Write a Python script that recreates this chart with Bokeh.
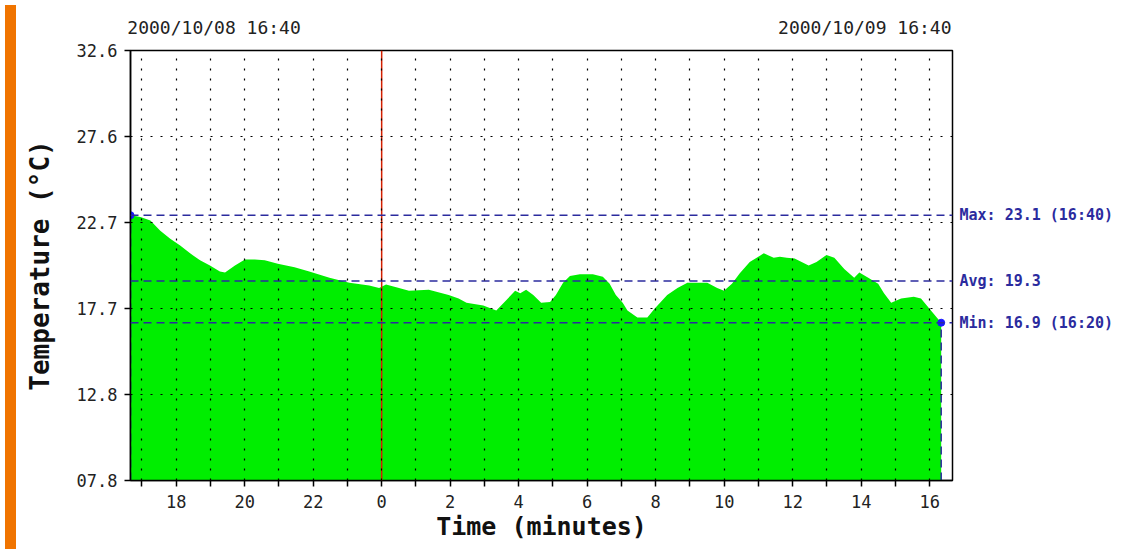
from bokeh.plotting import figure
from bokeh.models import Range1d, FixedTicker, Span, LinearAxis, Div
from bokeh.layouts import row
from bokeh.embed import file_html
from bokeh.resources import INLINE

# ---------------- data ----------------
start_label = "2000/10/08 16:40"
end_label = "2000/10/09 16:40"
start_offset_hours = -(7 + 20 / 60)   # 16:40 relative to midnight of 10/09
span_hours = 24.0

hours_since_start = [0.00, 0.29, 0.58, 0.87, 1.16, 1.45, 1.74, 2.03, 2.32, 2.61,
                     2.76, 3.05, 3.34, 3.63, 3.92, 4.30, 4.79, 5.22, 5.81, 6.39,
                     6.97, 7.26, 7.46, 7.84, 8.13, 8.71, 9.29, 9.58, 9.81, 10.30,
                     10.68, 10.97, 11.23, 11.38, 11.55, 11.76, 11.99, 12.25, 12.42, 12.63,
                     12.83, 13.12, 13.50, 13.79, 13.99, 14.17, 14.37, 14.51, 14.80, 15.09,
                     15.30, 15.67, 15.97, 16.26, 16.55, 16.84, 17.13, 17.33, 17.56, 17.79,
                     18.08, 18.49, 18.78, 18.96, 19.16, 19.39, 19.80, 20.03, 20.32, 20.55,
                     20.84, 21.13, 21.28, 21.54, 21.83, 22.00, 22.21, 22.50, 22.87, 23.08,
                     23.37, 23.67]
temperature_c = [23.1, 23.0, 22.8, 22.2, 21.75, 21.35, 20.9, 20.5, 20.2, 19.85,
                 19.8, 20.2, 20.55, 20.55, 20.5, 20.3, 20.1, 19.85, 19.5, 19.2,
                 19.05, 18.9, 19.1, 18.9, 18.75, 18.8, 18.5, 18.3, 18.05, 17.9,
                 17.6, 18.2, 18.75, 18.6, 18.8, 18.5, 18.05, 18.1, 18.5, 19.2,
                 19.6, 19.7, 19.7, 19.55, 19.15, 18.5, 18.05, 17.6, 17.2, 17.2,
                 17.7, 18.5, 18.9, 19.2, 19.2, 19.2, 18.9, 18.75, 19.15, 19.75,
                 20.4, 20.9, 20.65, 20.7, 20.65, 20.6, 20.2, 20.4, 20.8, 20.65,
                 20.0, 19.5, 19.8, 19.5, 19.15, 18.6, 18.05, 18.3, 18.4, 18.3,
                 17.6, 16.9]

max_val, max_time = 23.1, "16:40"
avg_val = 19.3
min_val, min_time = 16.9, "16:20"
max_hours_since_start = 0.0
min_hours_since_start = 23.67

y_min, y_max = 7.8, 32.6
y_tick_values = [7.8, 12.76, 17.72, 22.68, 27.64, 32.6]
y_tick_labels = ["07.8", "12.8", "17.7", "22.7", "27.6", "32.6"]
x_tick_hours = [-6, -4, -2, 0, 2, 4, 6, 8, 10, 12, 14, 16]
x_tick_labels = ["18", "20", "22", "0", "2", "4", "6", "8", "10", "12", "14", "16"]
x_minor_hours = [-7, -5, -3, -1, 1, 3, 5, 7, 9, 11, 13, 15]

# ---------------- styling ----------------
MONO = "DejaVu Sans Mono"
GREEN = "#00ee00"
BLUE = "#2b2b9e"
DOT_BLUE = "#1a1aff"
ORANGE = "#f07400"
START_LABEL_CENTER_H = 2.44   # date-label centres, hours in from the frame edges
END_LABEL_CENTER_H = 2.56

x = [h + start_offset_hours for h in hours_since_start]
x_start = start_offset_hours
x_end = start_offset_hours + span_hours

H = 544
PAGE_MARGIN = 8
BAR_W = 11
PW = 1105
FRAME_L, FRAME_R, FRAME_T, FRAME_B = 125, 950, 50, 480

# orange strip at the left edge
bar = Div(text="", width=BAR_W, height=H, styles={"background-color": ORANGE})

p = figure(width=PW, height=H, output_backend="svg", toolbar_location=None,
           x_range=Range1d(x_start, x_end), y_range=Range1d(y_min, y_max),
           min_border_left=FRAME_L - BAR_W - PAGE_MARGIN,
           min_border_right=PAGE_MARGIN + BAR_W + PW - FRAME_R,
           min_border_top=FRAME_T, min_border_bottom=H - FRAME_B,
           background_fill_color="white", border_fill_color="white")
p.outline_line_color = "black"
p.outline_line_width = 1.5

p.varea(x=x, y1=y_min, y2=temperature_c, fill_color=GREEN, fill_alpha=1.0)

# grids
p.xgrid.ticker = FixedTicker(ticks=list(range(-7, 17)))
for g in (p.xgrid, p.ygrid):
    g.grid_line_color = "black"
    g.grid_line_dash = "2 8"
    g.grid_line_width = 1.2
    g.level = "overlay"

# axes
p.xaxis.ticker = FixedTicker(ticks=x_tick_hours, minor_ticks=x_minor_hours)
p.xaxis.major_label_overrides = dict(zip(x_tick_hours, x_tick_labels))
p.yaxis.ticker = FixedTicker(ticks=y_tick_values)
p.yaxis.major_label_overrides = dict(zip(y_tick_values, y_tick_labels))
p.ygrid.ticker = FixedTicker(ticks=y_tick_values)
p.yaxis.minor_tick_line_color = None
for ax in (p.xaxis, p.yaxis):
    ax.axis_line_color = "black"
    ax.axis_line_width = 1.5
    ax.major_tick_in = 0
    ax.major_tick_out = 6
    ax.minor_tick_in = 0
    ax.minor_tick_out = 6
    ax.major_tick_line_width = 1.5
    ax.minor_tick_line_width = 1.5
    ax.major_label_text_font = MONO
    ax.major_label_text_font_size = "17px"
    ax.major_label_text_color = "#222222"
    ax.axis_label_text_font = MONO
    ax.axis_label_text_font_style = "bold"
    ax.axis_label_text_color = "#111111"
p.xaxis.axis_label_text_font_size = "25px"
p.yaxis.axis_label_text_font_size = "26px"
p.xaxis.major_label_standoff = 8
p.yaxis.major_label_standoff = 7
p.xaxis.axis_label = "Time (minutes)"
p.yaxis.axis_label = "Temperature (°C)"
p.xaxis.axis_label_standoff = 1
p.yaxis.axis_label_standoff = 19

# top date labels (as an axis above the frame)
date_ticks = [x_start + START_LABEL_CENTER_H, x_end - END_LABEL_CENTER_H]
top_axis = LinearAxis(ticker=FixedTicker(ticks=date_ticks),
                      major_label_overrides=dict(zip(date_ticks, [start_label, end_label])))
top_axis.axis_line_color = None
top_axis.major_tick_line_color = None
top_axis.minor_tick_line_color = None
top_axis.major_tick_out = 0
top_axis.major_tick_in = 0
top_axis.major_label_standoff = 13
top_axis.major_label_text_font = MONO
top_axis.major_label_text_font_size = "18px"
top_axis.major_label_text_color = "#222222"
p.add_layout(top_axis, "above")

# right stats labels (as an axis right of the frame)
stat_values = [max_val, avg_val, min_val]
stat_texts = ["Max: %.1f (%s)" % (max_val, max_time),
              "Avg: %.1f" % avg_val,
              "Min: %.1f (%s)" % (min_val, min_time)]
right_axis = LinearAxis(ticker=FixedTicker(ticks=stat_values),
                        major_label_overrides=dict(zip(stat_values, stat_texts)))
right_axis.axis_line_color = None
right_axis.major_tick_line_color = None
right_axis.minor_tick_line_color = None
right_axis.major_tick_out = 0
right_axis.major_tick_in = 0
right_axis.major_label_standoff = 7
right_axis.major_label_text_font = MONO
right_axis.major_label_text_font_size = "15px"
right_axis.major_label_text_font_style = "bold"
right_axis.major_label_text_color = BLUE
p.add_layout(right_axis, "right")

# midnight marker
p.add_layout(Span(location=0, dimension="height", line_color="#d42000", line_width=1.5))

# stats lines
for v in stat_values:
    p.add_layout(Span(location=v, dimension="width", line_color=BLUE,
                      line_dash="8 5", line_width=1.5))
mx = x_start + max_hours_since_start
mn = x_start + min_hours_since_start
p.segment(x0=[mx, mn], y0=[y_min, y_min], x1=[mx, mn], y1=[max_val, min_val],
          line_color=BLUE, line_dash="8 5", line_width=1.5)
p.scatter(x=[mx, mn], y=[max_val, min_val], size=7, color=DOT_BLUE)

layout = row(bar, p)
open("out.html", "w").write(file_html(layout, INLINE))
